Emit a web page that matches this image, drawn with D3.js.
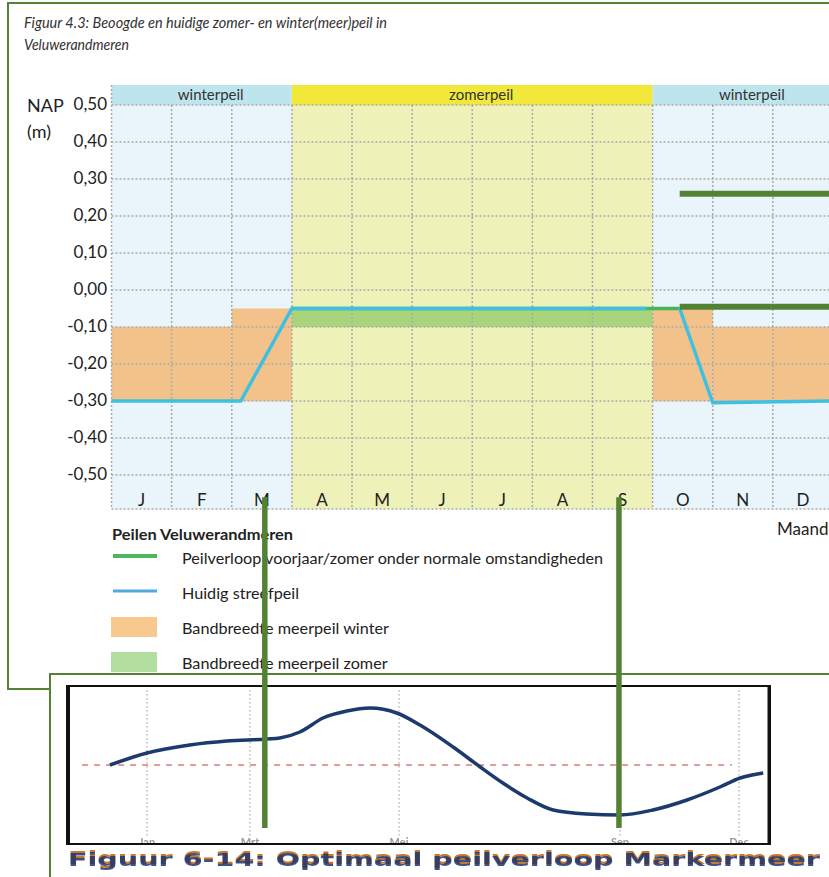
<!DOCTYPE html>
<html>
<head>
<meta charset="utf-8">
<script src="https://cdn.jsdelivr.net/npm/d3@7"></script>
<style>
  body { margin: 0; background: #fff; }
  svg { display: block; font-family: Lato, "Open Sans", sans-serif; }
</style>
</head>
<body>
<div id="chart"></div>
<script>
// ---- data: top figure (Veluwerandmeren) ----
const months = ["J", "F", "M", "A", "M", "J", "J", "A", "S", "O", "N", "D"];
const yTicks = [0.5, 0.4, 0.3, 0.2, 0.1, 0, -0.1, -0.2, -0.3, -0.4, -0.5];
const seasons = [
  { name: "winterpeil", from: 0, to: 3, kind: "winter" },
  { name: "zomerpeil", from: 3, to: 9, kind: "zomer" },
  { name: "winterpeil", from: 9, to: 12, kind: "winter" }
];
const winterBand = [
  { from: 0, to: 2, lo: -0.30, hi: -0.10 },
  { from: 2, to: 3, lo: -0.30, hi: -0.05 },
  { from: 9, to: 10, lo: -0.30, hi: -0.05 },
  { from: 10, to: 12, lo: -0.30, hi: -0.10 }
];
const zomerBand = [{ from: 3, to: 9, lo: -0.10, hi: -0.05 }];
const peilverloop = [[3, -0.05], [9.45, -0.05]];
const streefpeil = [[0, -0.30], [2.15, -0.30], [3, -0.05], [8.9, -0.05], null,
                    [9.45, -0.05], [10, -0.305], [12, -0.30]];
// hand-drawn annotation marks
const annoHoriz = [0.26, -0.045];
const annoHorizFrom = 9.45;
const legendItems = [
  { label: "Peilverloop voorjaar/zomer onder normale omstandigheden", type: "line", color: "#4cb85c", w: 4 },
  { label: "Huidig streefpeil", type: "line", color: "#52aae2", w: 3 },
  { label: "Bandbreedte meerpeil winter", type: "rect", color: "#f8c98f" },
  { label: "Bandbreedte meerpeil zomer", type: "rect", color: "#b3dea0" }
];

// ---- data: bottom figure (Markermeer) ----
const lowTicks = [
  { label: "Jan", m: 0 }, { label: "Mrt", m: 2 }, { label: "Mei", m: 4 },
  { label: "Sep", m: 8 }, { label: "Dec", m: 11 }
];
const lowCurve = [
  [-0.72, 0.00], [0, 0.24], [0.83, 0.40], [1.55, 0.48], [2.23, 0.52], [2.4, 0.54],
  [2.67, 0.66], [2.98, 0.94], [3.3, 1.08], [3.61, 1.14], [3.97, 1.04], [4.38, 0.80],
  [4.98, 0.36], [5.47, -0.04], [5.88, -0.36], [6.32, -0.66], [6.79, -0.90],
  [7.4, -0.98], [8, -1.0], [8.83, -0.90], [9.69, -0.70], [10.52, -0.44],
  [11.03, -0.26], [11.61, -0.16]
];
const lowRef = [[-1.26, 0], [10.82, 0]];
// thick green vertical marks crossing both figures (month on top axis)
const annoVert = [2.55, 8.44];

const W = 829, H = 877;
const frameGreen = "#548235";

const svg = d3.select("#chart").append("svg")
  .attr("width", W).attr("height", H);
const defs = svg.append("defs");
defs.append("filter").attr("id", "soft").append("feGaussianBlur").attr("stdDeviation", 0.6);
defs.append("clipPath").attr("id", "lowclip").append("rect")
  .attr("x", 60).attr("y", 680).attr("width", 720).attr("height", 164);

// ---------- top figure ----------
svg.append("rect")
  .attr("x", 8).attr("y", 3).attr("width", 900).attr("height", 686)
  .attr("fill", "#fff").attr("stroke", frameGreen).attr("stroke-width", 2);

svg.append("text").attr("x", 24).attr("y", 28)
  .attr("font-size", 15.5).attr("font-style", "italic").attr("fill", "#333")
  .attr("textLength", 363).attr("lengthAdjust", "spacingAndGlyphs")
  .text("Figuur 4.3: Beoogde en huidige zomer- en winter(meer)peil in");
svg.append("text").attr("x", 24).attr("y", 50)
  .attr("font-size", 15.5).attr("font-style", "italic").attr("fill", "#333")
  .attr("textLength", 105).attr("lengthAdjust", "spacingAndGlyphs")
  .text("Veluwerandmeren");

const x = d3.scaleLinear().domain([0, 12]).range([111.5, 833]);
const y = d3.scaleLinear().domain([-0.5, 0.5]).range([475, 105]);
const plotBottom = 509, headTop = 85;

const topG = svg.append("g");

// season backgrounds and header
topG.selectAll(".bg").data(seasons).join("rect")
  .attr("x", d => x(d.from)).attr("width", d => x(d.to) - x(d.from))
  .attr("y", y(0.5)).attr("height", plotBottom - y(0.5))
  .attr("fill", d => d.kind === "winter" ? "#e9f5fb" : "#eef2b8");
topG.selectAll(".hd").data(seasons).join("rect")
  .attr("x", d => x(d.from)).attr("width", d => x(d.to) - x(d.from))
  .attr("y", headTop).attr("height", y(0.5) - headTop)
  .attr("fill", d => d.kind === "winter" ? "#bee4ee" : "#f2e83a");
topG.selectAll(".hdl").data(seasons).join("text")
  .attr("x", d => (x(d.from) + x(d.to)) / 2 + 9).attr("y", 100)
  .attr("text-anchor", "middle").attr("font-size", 15).attr("fill", "#333")
  .text(d => d.name);

// bands
topG.selectAll(".wb").data(winterBand).join("rect")
  .attr("x", d => x(d.from)).attr("width", d => x(d.to) - x(d.from))
  .attr("y", d => y(d.hi)).attr("height", d => y(d.lo) - y(d.hi))
  .attr("fill", "#f2c28a");
topG.selectAll(".zb").data(zomerBand).join("rect")
  .attr("x", d => x(d.from)).attr("width", d => x(d.to) - x(d.from))
  .attr("y", d => y(d.hi)).attr("height", d => y(d.lo) - y(d.hi))
  .attr("fill", "#a9d47b");

// dotted grid
const grid = topG.append("g").attr("stroke", "#aaa").attr("stroke-width", 1.5)
  .attr("stroke-dasharray", "2,2").attr("fill", "none");
grid.selectAll(".gh").data(yTicks.concat([null])).join("line")
  .attr("x1", x(0)).attr("x2", x(12))
  .attr("y1", d => d === null ? plotBottom : y(d))
  .attr("y2", d => d === null ? plotBottom : y(d));
grid.selectAll(".gv").data(d3.range(0, 13)).join("line")
  .attr("x1", d => x(d)).attr("x2", d => x(d))
  .attr("y1", d => d === 0 ? headTop : y(0.5)).attr("y2", plotBottom);

// lines
const line = d3.line().defined(d => d).x(d => x(d[0])).y(d => y(d[1]));
topG.append("path").attr("d", line(peilverloop))
  .attr("fill", "none").attr("stroke", "#47b55a").attr("stroke-width", 3.5);
topG.append("path").attr("d", line(streefpeil))
  .attr("fill", "none").attr("stroke", "#3ec0e2").attr("stroke-width", 3.5)
  .attr("stroke-linejoin", "miter");
topG.selectAll(".ah").data(annoHoriz).join("line")
  .attr("x1", x(annoHorizFrom)).attr("x2", x(12))
  .attr("y1", d => y(d)).attr("y2", d => y(d))
  .attr("stroke", frameGreen).attr("stroke-width", 6);

// axes text
topG.selectAll(".yt").data(yTicks).join("text")
  .attr("x", 107).attr("y", d => y(d) + 5)
  .attr("text-anchor", "end").attr("font-size", 17).attr("fill", "#222")
  .text(d => d3.format(".2f")(d).replace(".", ",").replace("−", "-"));
topG.append("text").attr("x", 27).attr("y", 112).attr("font-size", 18).attr("fill", "#222").text("NAP");
topG.append("text").attr("x", 27).attr("y", 138).attr("font-size", 18).attr("fill", "#222").text("(m)");
topG.selectAll(".mt").data(months).join("text")
  .attr("x", (d, i) => x(i + 0.5)).attr("y", 506)
  .attr("text-anchor", "middle").attr("font-size", 17).attr("fill", "#222")
  .text(d => d);
topG.append("text").attr("x", 777).attr("y", 535).attr("font-size", 17).attr("fill", "#222").text("Maanden");

// legend
const leg = svg.append("g");
leg.append("text").attr("x", 112).attr("y", 540).attr("font-size", 16)
  .attr("font-weight", "bold").attr("fill", "#222")
  .attr("textLength", 181).attr("lengthAdjust", "spacingAndGlyphs")
  .text("Peilen Veluwerandmeren");
const legRows = leg.selectAll(".lr").data(legendItems).join("g")
  .attr("transform", (d, i) => `translate(0, ${556 + i * 35})`);
legRows.filter(d => d.type === "line").append("line")
  .attr("x1", 113).attr("x2", 157).attr("y1", 0).attr("y2", 0)
  .attr("stroke", d => d.color).attr("stroke-width", d => d.w);
legRows.filter(d => d.type === "rect").append("rect")
  .attr("x", 111).attr("y", -9).attr("width", 46).attr("height", 20)
  .attr("fill", d => d.color);
legRows.append("text").attr("x", 182).attr("y", 7.5)
  .attr("font-size", 16.2).attr("fill", "#222").text(d => d.label);

// ---------- bottom figure ----------
svg.append("rect")
  .attr("x", 50).attr("y", 674).attr("width", 900).attr("height", 300)
  .attr("fill", "#fff").attr("stroke", frameGreen).attr("stroke-width", 2);

const lx = d3.scaleLinear().domain([0, 2, 4, 8, 11]).range([147, 250, 399, 620, 739]);
const lxExt = m => m < 0 ? 147 + m * 51.5 : m > 11 ? 739 + (m - 11) * 39.7 : lx(m);
const ly = d3.scaleLinear().domain([-1, 1]).range([815, 715]);
const low = svg.append("g");
const lowIn = low.append("g").attr("clip-path", "url(#lowclip)");

lowIn.selectAll(".lv").data(lowTicks).join("line")
  .attr("x1", d => lx(d.m)).attr("x2", d => lx(d.m))
  .attr("y1", 690).attr("y2", 836)
  .attr("stroke", "#bbb").attr("stroke-width", 1.5).attr("stroke-dasharray", "1.5,2.5");
lowIn.append("path")
  .attr("d", d3.line().x(d => lxExt(d[0])).y(d => ly(d[1]))(lowRef))
  .attr("stroke", "#e07a7a").attr("stroke-width", 1.3).attr("stroke-dasharray", "6,6")
  .attr("fill", "none");
lowIn.append("path")
  .attr("d", d3.line().curve(d3.curveMonotoneX).x(d => lxExt(d[0])).y(d => ly(d[1]))(lowCurve))
  .attr("stroke", "#1c3a6c").attr("stroke-width", 3.5).attr("fill", "none")
  .attr("filter", "url(#soft)");
lowIn.selectAll(".ll").data(lowTicks).join("text")
  .attr("x", d => lx(d.m)).attr("y", 846)
  .attr("text-anchor", "middle").attr("font-size", 11).attr("font-weight", "bold")
  .attr("fill", "#999").attr("filter", "url(#soft)").text(d => d.label);
low.append("rect").attr("x", 67).attr("y", 686).attr("width", 703).attr("height", 158)
  .attr("fill", "none").attr("stroke", "#111").attr("stroke-width", 2);
low.append("line").attr("x1", 68.5).attr("x2", 68.5).attr("y1", 686).attr("y2", 845)
  .attr("stroke", "#111").attr("stroke-width", 3);
low.append("line").attr("x1", 769).attr("x2", 769).attr("y1", 686).attr("y2", 845)
  .attr("stroke", "#111").attr("stroke-width", 3);

const cap = "Figuur 6-14: Optimaal peilverloop Markermeer";
low.append("text").attr("x", 68).attr("y", 864)
  .attr("font-family", "DejaVu Sans").attr("font-weight", "bold").attr("font-size", 17)
  .attr("textLength", 752).attr("lengthAdjust", "spacingAndGlyphs")
  .attr("fill", "#c8782c").attr("filter", "url(#soft)").text(cap);
low.append("text").attr("x", 68).attr("y", 865.5)
  .attr("font-family", "DejaVu Sans").attr("font-weight", "bold").attr("font-size", 17)
  .attr("textLength", 752).attr("lengthAdjust", "spacingAndGlyphs")
  .attr("fill", "#1f3570").attr("opacity", 0.85).attr("filter", "url(#soft)").text(cap);

// ---------- thick green marks across both figures ----------
svg.selectAll(".av").data(annoVert).join("line")
  .attr("x1", d => x(d)).attr("x2", d => x(d))
  .attr("y1", y(-0.56)).attr("y2", ly(-1.26))
  .attr("stroke", frameGreen).attr("stroke-width", 5.5);
</script>
</body>
</html>
